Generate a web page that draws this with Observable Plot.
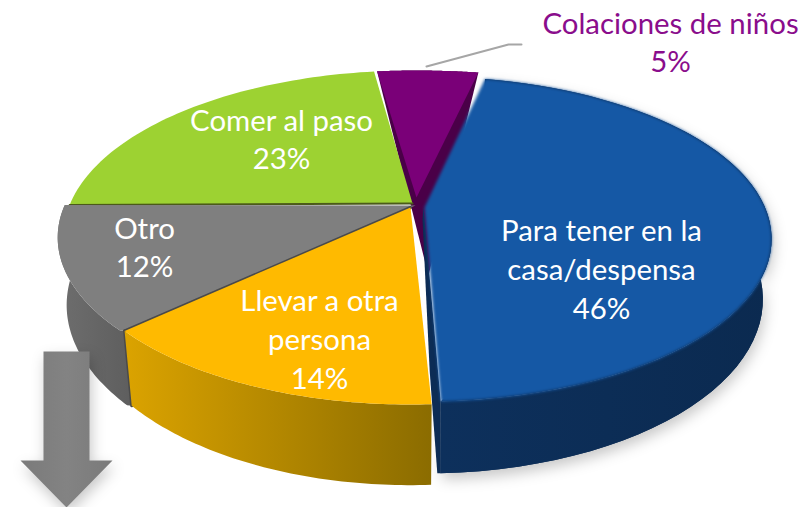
<!DOCTYPE html>
<html><head><meta charset="utf-8">
<script src="https://cdn.jsdelivr.net/npm/d3@7"></script>
<script src="https://cdn.jsdelivr.net/npm/@observablehq/plot@0.6"></script>
<style>
html,body{margin:0;padding:0;background:#fff}
svg{display:block}
</style></head><body><div id="chart"></div>
<script>
const names = ["Colaciones de niños", "Para tener en la\ncasa/despensa", "Llevar a otra\npersona", "Otro", "Comer al paso"];
const shares = [5, 46, 14, 12, 23];
const topColors = ["#7a0078", "#1558a5", "#ffba00", "#7f7f7f", "#9dd232"];
const sideFills = ["#4a0048", "url(#wallBlue)", "url(#wallYellow)", "url(#wallGrey)", "#5f7d1e"];

// slice layout: apex pixel, horizontal scale, vertical scale, wall depth, small angle nudge
const apexX = [416, 424, 410, 415, 412];
const apexY = [203, 207, 207, 205, 203];
const scaleX = [1.1, 0.97, 0.96, 1, 0.975];
const scaleY = [1, 0.985, 1, 1, 1];
const depths = [0, 58, 65, 65, 0];
const nudge = [0, 1.2, 0.5, 0, -0.7];
const labelX = [670, 601, 319, 144, 281];
const labelY = [40, 267, 337, 245, 137];
const labelColors = ["#8a0d8c", "#fff", "#fff", "#fff", "#fff"];

const startAngle = -7, persp = 0.194, radX = 351, radY = 158.8, wallShrink = 0.975;
const rad = d => d * Math.PI / 180;
let acc = startAngle;
const slices = shares.map((v, i) => {
  const a0 = acc + nudge[i]; acc += v * 3.6;
  return {i, a0, a1: acc + nudge[i], name: names[i], value: v};
});
function rimAt(s, a, lower = false) {
  const u = Math.sin(rad(a)), v = Math.cos(rad(a)), w = 1 + persp * v;
  const X = radX * scaleX[s.i] * u / w, Y = radY * scaleY[s.i] * v / w;
  return lower
    ? {x: apexX[s.i] + wallShrink * X, y: apexY[s.i] - Y + depths[s.i] / w}
    : {x: apexX[s.i] + X, y: apexY[s.i] - Y};
}
const arc = (s, lower = false, a0 = s.a0, a1 = s.a1) => d3.range(0, 61).map(k => rimAt(s, a0 + (a1 - a0) * k / 60, lower));
const topFace = (s, dy = 0) => [{x: apexX[s.i], y: apexY[s.i] - dy}, ...arc(s)];
const wallFace = s => [...arc(s), ...arc(s, true).reverse()];
const face = (pts, fill, extra = {}) => Plot.line(pts, {x: "x", y: "y", fill, stroke: "none", curve: "linear", ...extra});
const edge = (pts, stroke, strokeWidth = 2, extra = {}) => Plot.line(pts, {x: "x", y: "y", stroke, strokeWidth, curve: "linear", ...extra});

const [sPurple, sBlue, sYellow, sGrey, sGreen] = slices;

// grey faces run right up to the yellow slice's edge
const yellowRimTop = rimAt(sYellow, sYellow.a1), yellowRimLow = rimAt(sYellow, sYellow.a1, true);
const yellowApex = {x: apexX[2], y: apexY[2]};
const greyTop = [yellowApex, yellowRimTop, ...arc(sGrey), {x: apexX[3], y: apexY[3]}];
const greyWall = [yellowRimTop, ...wallFace(sGrey), yellowRimLow];
// purple wedge seen under its top face, running down between the neighbours
const purpleWedge = [...arc(sPurple), {x: 428, y: 275}];
// cut wall on the left of the blue slice
const blueA1 = rimAt(sBlue, sBlue.a1), blueB1 = rimAt(sBlue, sBlue.a1, true);
const blueCut = [{x: apexX[1] - 1, y: apexY[1]}, blueA1, blueB1, {x: blueB1.x - 3, y: blueB1.y}, {x: blueA1.x - 11, y: blueA1.y - 30}, {x: apexX[1] - 2, y: apexY[1] + 12}];
// decoration
const leader = [{x: 426, y: 66}, {x: 508, y: 44}, {x: 521, y: 44}];
const arrowShape = [{x: 43, y: 351}, {x: 89, y: 351}, {x: 89, y: 460}, {x: 112, y: 460}, {x: 66, y: 507}, {x: 20, y: 460}, {x: 43, y: 460}];
const labels = slices.map(s => ({...s, text: s.name + "\n" + s.value + "%"}));

const plot = Plot.plot({
  width: 805, height: 507, margin: 0,
  x: {domain: [0, 805], range: [0, 805], axis: null},
  y: {domain: [0, 507], range: [0, 507], axis: null},
  style: {background: "#fff", overflow: "visible"},
  marks: [
    face(wallFace(sBlue), "#0c2c55", {className: "softshadow"}),
    face(purpleWedge, "#4a0048"),
    face(topFace(sPurple, 6), "#7a0078"),
    face(topFace(sGreen), topColors[4]),
    edge([{x: apexX[4], y: apexY[4]}, rimAt(sGreen, sGreen.a0)], "#4b5a1a", 2),
    face(greyWall, sideFills[3]),
    face(greyTop, topColors[3]),
    edge([yellowApex, yellowRimTop], "#4a4a4a", 3),
    edge([yellowRimTop, yellowRimLow], "#4a4a4a", 3),
    face(wallFace(sYellow), sideFills[2]),
    face(topFace(sYellow), topColors[2]),
    face(wallFace(sBlue), sideFills[1]),
    face(blueCut, "#0c2c55"),
    face(arc(sBlue, false, sBlue.a0 + 45, sBlue.a1), "#0c2c55"),
    face(topFace(sBlue), topColors[1], {className: "softtop"}),
    edge(leader, "#a6a6a6", 2),
    face(arrowShape, "url(#arrowFill)", {className: "softshadow"}),
    Plot.text(labels, {
      x: d => labelX[d.i], y: d => labelY[d.i], text: "text",
      fill: d => labelColors[d.i],
      fontFamily: "Lato, 'Open Sans', sans-serif", fontSize: 29.4, lineHeight: 1.32, lineAnchor: "middle", textAnchor: "middle"
    })
  ]
});
plot.insertAdjacentHTML("afterbegin", `<defs>
<linearGradient id="wallBlue" x1="0" x2="1" y1="0" y2="0"><stop offset="0" stop-color="#0d305c"/><stop offset="1" stop-color="#0b2a50"/></linearGradient>
<linearGradient id="wallYellow" x1="0" x2="1" y1="0" y2="0"><stop offset="0" stop-color="#dba300"/><stop offset="1" stop-color="#8b6c00"/></linearGradient>
<linearGradient id="wallGrey" x1="0" x2="1" y1="0" y2="0"><stop offset="0" stop-color="#6e6e6e"/><stop offset="1" stop-color="#5e5e5e"/></linearGradient>
<linearGradient id="arrowFill" x1="0" x2="1" y1="0" y2="0"><stop offset="0" stop-color="#7a7a7a"/><stop offset="0.5" stop-color="#838383"/><stop offset="1" stop-color="#7a7a7a"/></linearGradient>
<filter id="soft" x="-10%" y="-10%" width="120%" height="120%" color-interpolation-filters="sRGB"><feGaussianBlur stdDeviation="1.6"/></filter>
<filter id="shadow" x="-15%" y="-15%" width="130%" height="135%" color-interpolation-filters="sRGB"><feDropShadow dx="2" dy="6" stdDeviation="7" flood-color="#000" flood-opacity="0.22"/></filter>
</defs>`);
plot.querySelectorAll(".softtop").forEach(n => n.setAttribute("filter", "url(#soft)"));
plot.querySelectorAll(".softshadow").forEach(n => n.setAttribute("filter", "url(#shadow)"));
document.getElementById("chart").append(plot);
</script></body></html>
